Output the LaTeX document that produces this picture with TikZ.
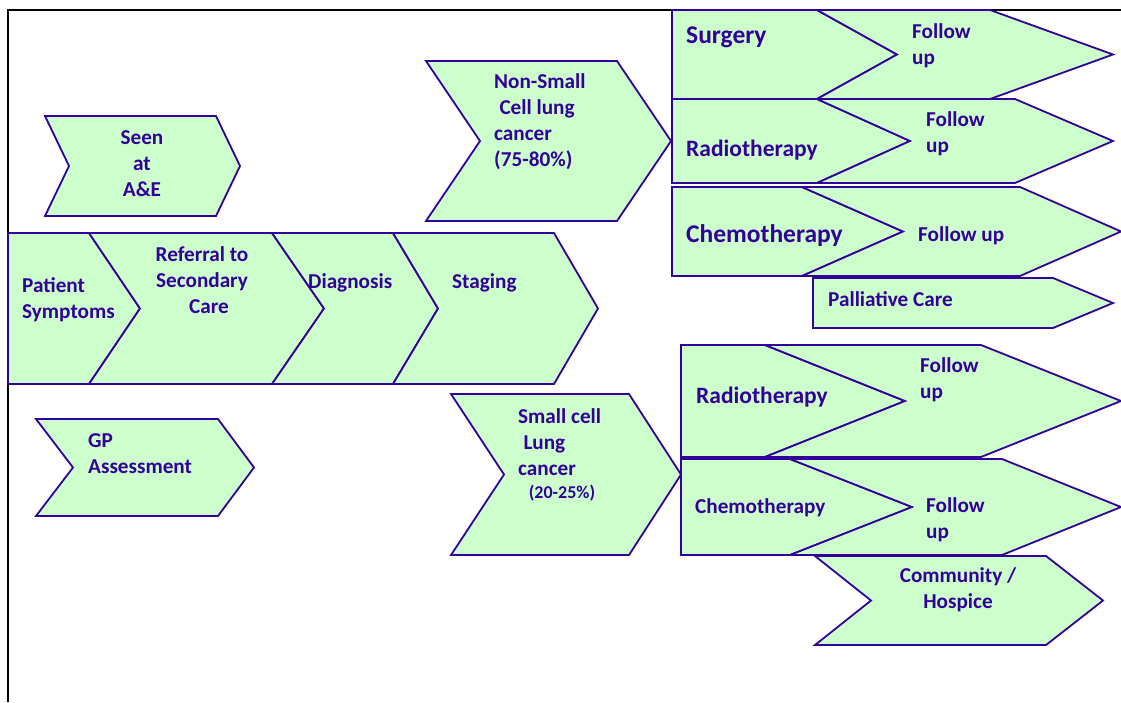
\documentclass[tikz,border=0pt]{standalone}
\usepackage{fontspec}
\setmainfont{Carlito}
\definecolor{ink}{RGB}{51,0,153}
\definecolor{leaf}{RGB}{204,255,204}
\newcommand\chevshape[6]{%
  \path[chev] (#1,#5) -- (#2,#5) -- (#3,{(#5+#6)/2}) -- (#2,#6) -- (#1,#6) -- (#4,{(#5+#6)/2}) -- cycle;}
\begin{document}
\begin{tikzpicture}[x=1pt,y=-1pt,
  chev/.style={fill=leaf,draw=ink,line width=1.8pt,line join=miter},
  lbl/.style={inner sep=0pt,text=ink,anchor=base west,align=left,
    font=\fontsize{21.2}{26}\selectfont\bfseries},
  midlbl/.style={lbl,font=\fontsize{23.5}{28}\selectfont\bfseries},
  biglbl/.style={lbl,font=\fontsize{25.5}{30}\selectfont\bfseries}]
\useasboundingbox (0,0) rectangle (1121,702);
% page frame
\draw[black,line width=1.6pt] (8,702) -- (8,10) -- (1121,10);

% entry points
\chevshape{45}{216}{240}{69}{116}{216}
\chevshape{36}{218}{254}{73}{419}{516}
% main pathway
\chevshape{8}{89}{140}{8}{233}{384}
\chevshape{89}{272}{324}{140}{233}{384}
\chevshape{272}{393}{438}{324}{233}{384}
\chevshape{393}{554}{598}{438}{233}{384}
% tumour types
\chevshape{426}{617}{671}{480}{61}{221}
\chevshape{451}{629}{681}{504}{394}{555}
% non-small cell treatments
\chevshape{672}{817}{897}{672}{10}{99}
\chevshape{817}{990}{1113}{897}{10}{99}
\chevshape{672}{817}{910}{672}{99}{183}
\chevshape{817}{1015}{1113}{910}{99}{183}
\chevshape{672}{802}{903}{672}{187}{276}
\chevshape{802}{1020}{1121}{903}{187}{276}
\chevshape{813}{1053}{1113}{813}{278}{328}
% small cell treatments
\chevshape{681}{765}{905}{681}{345}{457}
\chevshape{765}{981}{1121}{905}{345}{457}
\chevshape{681}{790}{912}{681}{459}{555}
\chevshape{790}{1002}{1121}{912}{459}{555}
\chevshape{815}{1046}{1103}{871}{556}{645}

% labels (multi-line labels are placed by the baseline of their last line)
\node[lbl,anchor=base,align=center] (seen) at (142,196) {Seen\\at\\A\&E};
\node[lbl] (gp) at (88,473) {GP\\Assessment};
\node[lbl] (patient) at (22,318) {Patient\\Symptoms};
\node[lbl,anchor=base,align=center] (referral) at (202,313) {Referral to\\Secondary\\\hspace*{0.65em}Care};
\node[lbl] (diagnosis) at (308,288) {Diagnosis};
\node[lbl] (staging) at (452,288) {Staging};
\node[lbl] (nsclc) at (494,166) {Non-Small\\\hspace*{0.25em}Cell lung\\cancer\\(75-80\%)};
\node[lbl] (sclc) at (518,498) {Small cell\\\hspace*{0.25em}Lung\\cancer\\[-3pt]\hspace*{0.5em}{\fontsize{18}{22}\selectfont(20-25\%)}};
\node[biglbl] (surgery) at (686,43) {Surgery};
\node[lbl] (fu1) at (912,64) {Follow\\up};
\node[midlbl] (radio1) at (686,156) {Radiotherapy};
\node[lbl] (fu2) at (926,152) {Follow\\up};
\node[biglbl] (chemo1) at (686,242) {Chemotherapy};
\node[lbl] (fu3) at (918,241) {Follow up};
\node[lbl] (palliative) at (828,306) {Palliative Care};
\node[midlbl] (radio2) at (696,403) {Radiotherapy};
\node[lbl] (fu4) at (920,398) {Follow\\up};
\node[lbl] (chemo2) at (695,513) {Chemotherapy};
\node[lbl] (fu5) at (926,538) {Follow\\up};
\node[lbl,anchor=base,align=center] (community) at (958,608) {Community /\\Hospice};
\end{tikzpicture}
\end{document}
